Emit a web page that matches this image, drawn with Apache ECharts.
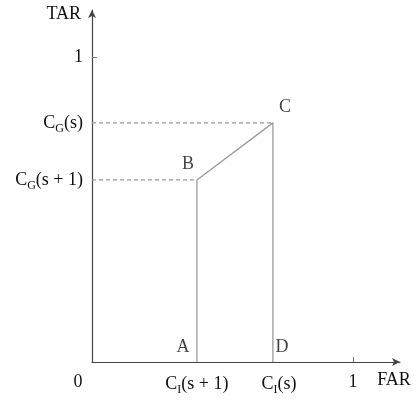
<!DOCTYPE html>
<html>
<head>
<meta charset="utf-8">
<script src="https://cdn.jsdelivr.net/npm/echarts@6/dist/echarts.min.js"></script>
<style>
  html, body { margin: 0; padding: 0; background: #fff; }
  #chart { width: 416px; height: 403px; }
</style>
</head>
<body>
<div id="chart"></div>
<script>
// values
const xTickValues = [0, 0.402, 0.693, 1];
const xTickLabels = ["{zero|0}", "C{sub|I}(s + 1)", "{rc|C}{sub|I}(s)", "1"];
const yTickValues = [0.597, 0.784, 1];
const yTickLabels = ["C{sub|G}(s + 1)", "C{sub|G}(s)", "1"];
const pointNames = ["A", "B", "C", "D"];
const pointX = [0.402, 0.402, 0.693, 0.693];
const pointY = [0, 0.597, 0.784, 0];

var chartDom = document.getElementById("chart");
var myChart = echarts.init(chartDom);

var font = "Liberation Serif";
var fs = 18;
var lineColor = "#9a9a9a";
var richSub = {
  sub: { fontSize: 12, fontFamily: font, color: "#111", padding: [11, 0, 0, 0] },
  zero: { fontSize: fs, fontFamily: font, color: "#111", padding: [0, 28, 0, 0] },
  rc: { fontSize: fs, fontFamily: font, color: "#111", padding: [0, 0, 0, 12] },
};

// label offsets for the point letters
var letterOffsets = { A: [-14, -15], B: [-9, -16], C: [12, -16], D: [9, -15] };

var shape = pointX.map(function (x, i) {
  return [x, pointY[i]];
});

var option = {
  animation: false,
  grid: { left: 92, right: 16, top: 10, bottom: 41 },
  xAxis: {
    type: "value",
    min: 0,
    max: 1.18,
    name: "FAR",
    nameLocation: "end",
    nameGap: -6,
    nameTextStyle: {
      fontFamily: font,
      fontSize: fs,
      color: "#111",
      align: "center",
      verticalAlign: "top",
      padding: [9, 0, 0, 0],
    },
    splitLine: { show: false },
    axisLine: {
      symbol: ["none", "arrow"],
      symbolSize: [6, 8],
      lineStyle: { color: "#444", width: 1.2 },
    },
    axisTick: {
      customValues: [1],
      inside: true,
      length: 5,
      lineStyle: { color: "#777" },
    },
    axisLabel: {
      customValues: xTickValues,
      margin: 11,
      fontFamily: font,
      fontSize: fs,
      color: "#111",
      formatter: function (v) {
        var i = xTickValues.indexOf(v);
        return i >= 0 ? xTickLabels[i] : "";
      },
      rich: richSub,
    },
  },
  yAxis: {
    type: "value",
    min: 0,
    max: 1.154,
    name: "TAR",
    nameLocation: "end",
    nameGap: -13,
    nameTextStyle: {
      fontFamily: font,
      fontSize: fs,
      color: "#111",
      align: "right",
      verticalAlign: "bottom",
      padding: [0, 11, 0, 0],
    },
    splitLine: { show: false },
    axisLine: {
      symbol: ["none", "arrow"],
      symbolSize: [6, 8],
      lineStyle: { color: "#444", width: 1.2 },
    },
    axisTick: {
      customValues: [1],
      inside: true,
      length: 5,
      lineStyle: { color: "#777" },
    },
    axisLabel: {
      customValues: yTickValues,
      margin: 9,
      fontFamily: font,
      fontSize: fs,
      color: "#111",
      formatter: function (v) {
        var i = yTickValues.indexOf(v);
        return i >= 0 ? yTickLabels[i] : "";
      },
      rich: richSub,
    },
  },
  series: [
    // A - B - C - D
    {
      type: "line",
      data: shape,
      symbol: "none",
      lineStyle: { color: lineColor, width: 1.3 },
      z: 3,
    },
    // dashed guides to B and C
    {
      type: "line",
      data: [[0, pointY[1]], [pointX[1], pointY[1]]],
      symbol: "none",
      lineStyle: { color: lineColor, width: 1.2, type: [4, 3] },
    },
    {
      type: "line",
      data: [[0, pointY[2]], [pointX[2], pointY[2]]],
      symbol: "none",
      lineStyle: { color: lineColor, width: 1.2, type: [4, 3] },
    },
    // point letters
    {
      type: "scatter",
      symbolSize: 0,
      data: pointNames.map(function (n, i) {
        return {
          value: [pointX[i], pointY[i]],
          label: {
            show: true,
            formatter: n,
            position: "inside",
            offset: letterOffsets[n],
            fontFamily: font,
            fontSize: fs,
            color: "#111",
          },
        };
      }),
      z: 5,
    },
  ],
};

if (option && typeof option === "object") {
  myChart.setOption(option);
}
</script>
</body>
</html>
